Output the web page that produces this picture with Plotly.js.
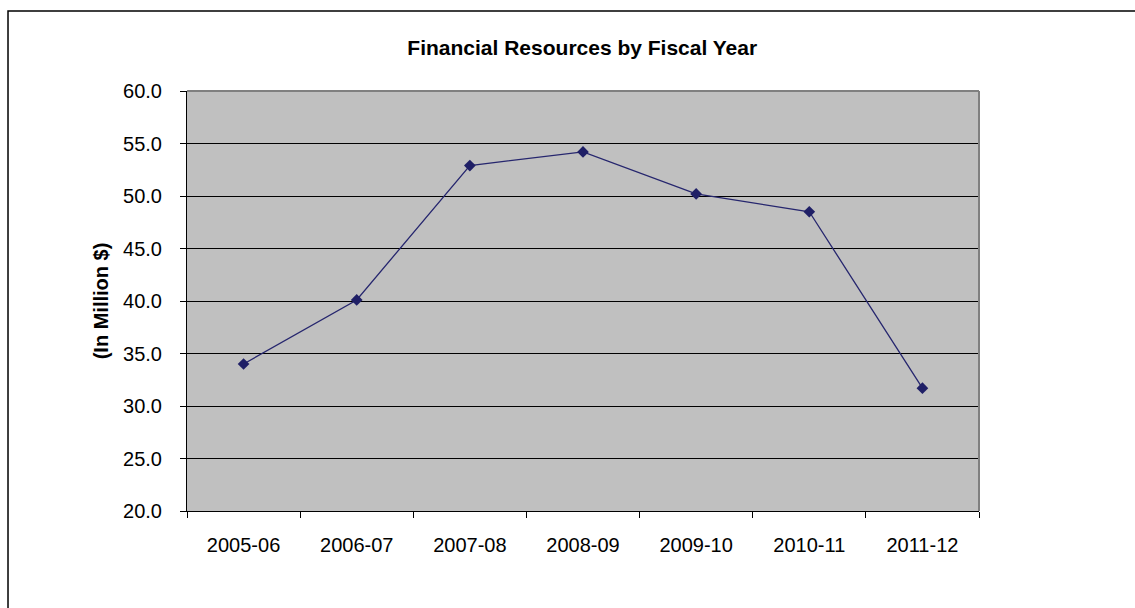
<!DOCTYPE html>
<html>
<head>
<meta charset="utf-8">
<script src="https://cdn.plot.ly/plotly-3.0.1.min.js"></script>
<style>html,body{margin:0;padding:0;background:#fff;}#chart{width:1135px;height:608px;}</style>
</head>
<body>
<div id="chart"></div>
<script>
const fiscalYears = ["2005-06", "2006-07", "2007-08", "2008-09", "2009-10", "2010-11", "2011-12"];
const resources = [34.0, 40.1, 52.9, 54.2, 50.2, 48.5, 31.7];
const yTickVals = [20, 25, 30, 35, 40, 45, 50, 55, 60];
const yTickText = ["20.0", "25.0", "30.0", "35.0", "40.0", "45.0", "50.0", "55.0", "60.0"];

const trace = {
  x: fiscalYears,
  y: resources,
  type: "scatter",
  mode: "lines+markers",
  line: {color: "#26266E", width: 1.3},
  marker: {symbol: "diamond", size: 9, color: "#1F1F66"},
  hoverinfo: "x+y"
};

const layout = {
  width: 1135,
  height: 608,
  margin: {l: 187, r: 156, t: 91, b: 97},
  paper_bgcolor: "#ffffff",
  plot_bgcolor: "#C0C0C0",
  showlegend: false,
  font: {family: "Liberation Sans, Arial, sans-serif", color: "#000", size: 20},
  title: {
    text: "<b>Financial Resources by Fiscal Year</b>",
    font: {family: "Liberation Sans, Arial, sans-serif", size: 21, color: "#000"},
    x: 0.513, xanchor: "center",
    y: 0.922, yanchor: "middle"
  },
  xaxis: {
    type: "category",
    range: [-0.5, 6.5],
    tickson: "boundaries",
    ticks: "outside",
    ticklen: 6,
    tickcolor: "#000",
    showline: true,
    linecolor: "#000",
    linewidth: 1,
    showgrid: false,
    zeroline: false,
    ticklabelstandoff: 16,
    tickfont: {size: 20}
  },
  yaxis: {
    range: [20, 60],
    tickvals: yTickVals,
    ticktext: yTickText,
    ticks: "outside",
    ticklen: 6,
    tickcolor: "#000",
    showline: true,
    linecolor: "#000",
    linewidth: 1,
    showgrid: true,
    gridcolor: "#000",
    gridwidth: 1,
    zeroline: false,
    ticklabelstandoff: 14,
    tickfont: {size: 20},
    title: {
      text: "<b>(In Million $)</b>",
      font: {size: 20},
      standoff: 9
    }
  },
  shapes: [
    {type: "line", xref: "paper", yref: "paper", x0: 0, x1: 1, y0: 1, y1: 1,
     line: {color: "#808080", width: 2}, layer: "above"},
    {type: "line", xref: "paper", yref: "paper", x0: 1, x1: 1, y0: 0, y1: 1,
     line: {color: "#808080", width: 2}, layer: "above"},
    {type: "rect", xref: "paper", yref: "paper", x0: -0.226, x1: 1.25, y0: -0.3, y1: 1.1905,
     line: {color: "#000", width: 1.5}, fillcolor: "rgba(0,0,0,0)", layer: "above"}
  ]
};

Plotly.newPlot("chart", [trace], layout, {displayModeBar: false, staticPlot: true});
</script>
</body>
</html>
